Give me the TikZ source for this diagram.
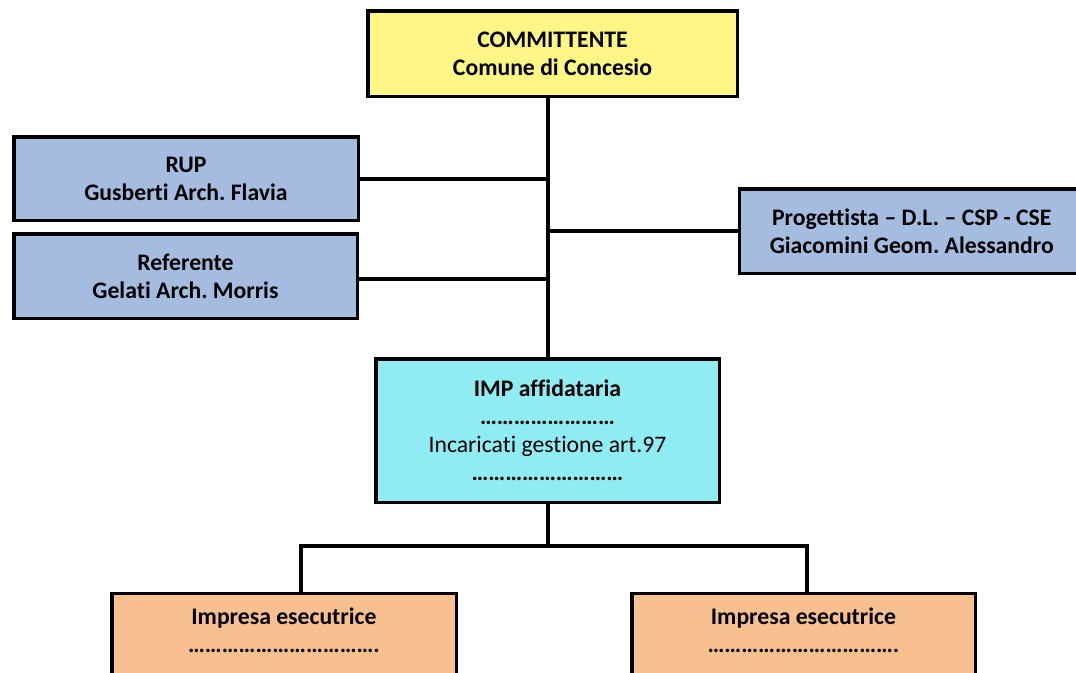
\documentclass[tikz,border=0pt]{standalone}
\usepackage{fontspec}
\setmainfont{Carlito}[Ligatures=NoCommon]
\frenchspacing
\definecolor{cyel}{HTML}{FFF685}
\definecolor{cblu}{HTML}{A4BCE0}
\definecolor{ccya}{HTML}{8EECF2}
\definecolor{cora}{HTML}{F8C08F}
\begin{document}
\begin{tikzpicture}[x=1pt,y=-1pt,
  box/.style={draw=black,line width=3.5pt,inner sep=0pt,align=center,
    font=\fontsize{23.7}{28}\selectfont\bfseries},
  conn/.style={line width=4pt,draw=black},
  txt/.style={inner sep=0pt,align=center,font=\fontsize{23.7}{28}\selectfont\bfseries}]
\useasboundingbox (0,0) rectangle (1076,672);
\node[box,fill=cyel,minimum width=369.5pt,minimum height=85.5pt] (comm) at (552.5,53.5)
  {COMMITTENTE\\Comune di Concesio};
\node[box,fill=cblu,minimum width=344.5pt,minimum height=83.5pt] (rup) at (186,178.5)
  {RUP\\Gusberti Arch. Flavia};
\node[box,fill=cblu,minimum width=343.5pt,minimum height=84.5pt] (ref) at (185.5,276)
  {Referente\\Gelati Arch. Morris};
\node[box,fill=cblu,minimum width=344.5pt,minimum height=84.5pt,anchor=west] (prog) at (737.75,231)
  {Progettista -- D.L. -- CSP - CSE\\Giacomini Geom. Alessandro};
\node[box,fill=ccya,minimum width=343.5pt,minimum height=143.5pt] (imp) at (547.5,430.5)
  {IMP affidataria\\\dots\dots\dots\dots\dots\dots\dots\dots\\{\mdseries Incaricati gestione art.97}\\\dots\dots\dots\dots\dots\dots\dots\dots\dots};
\node[box,fill=cora,minimum width=344.5pt,minimum height=120pt,anchor=north] (esL) at (284,591.75) {};
\node[box,fill=cora,minimum width=343.5pt,minimum height=120pt,anchor=north] (esR) at (803.5,591.75) {};
\node[txt,anchor=north] (tL) at (284,608) {Impresa esecutrice\\\dots\dots\dots\dots\dots\dots\dots\dots\dots\dots\dots.};
\node[txt,anchor=north] (tR) at (803.5,608) {Impresa esecutrice\\\dots\dots\dots\dots\dots\dots\dots\dots\dots\dots\dots.};
\coordinate (bl) at (301,546);
\coordinate (br) at (807,546);
\draw[conn] (imp.north |- comm.south) -- (imp.north);
\draw[conn] (rup.east) -- (rup.east -| imp.north);
\draw[conn] ([yshift=-3pt]ref.east) -- ([yshift=-3pt]ref.east -| imp.north);
\draw[conn] (prog.west) -- (prog.west -| imp.north);
\draw[conn] (imp.south) -- (imp.south |- bl);
\draw[conn] ([xshift=-2pt]bl) -- ([xshift=2pt]br);
\draw[conn] (bl) -- (bl |- esL.north);
\draw[conn] (br) -- (br |- esR.north);
\end{tikzpicture}
\end{document}
